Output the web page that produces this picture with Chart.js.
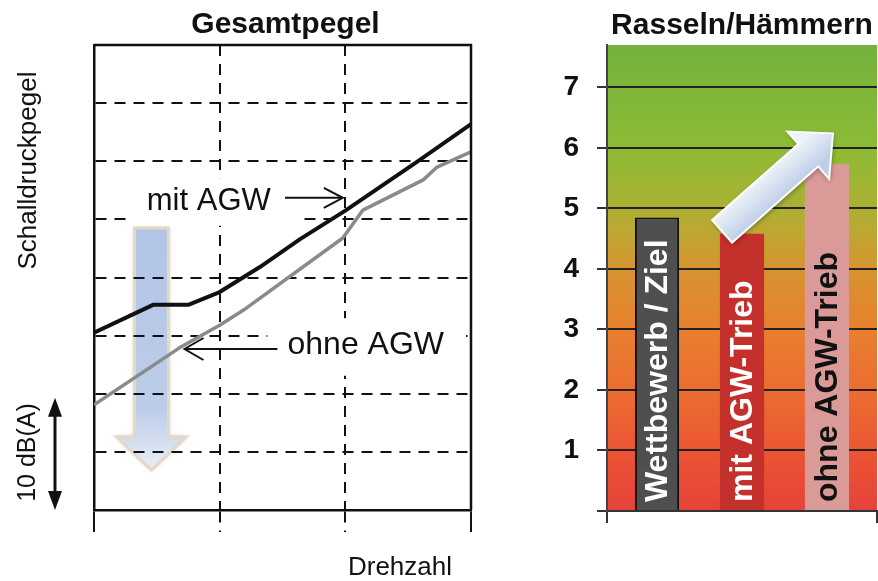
<!DOCTYPE html>
<html><head><meta charset="utf-8">
<script src="https://cdn.jsdelivr.net/npm/chart.js@4.4.0/dist/chart.umd.min.js"></script>
<style>
html,body{margin:0;padding:0;background:#fff;}
#wrap{position:relative;width:878px;height:581px;overflow:hidden;background:#fff;}
#c1{position:absolute;left:0;top:0;}
#c2{position:absolute;left:480px;top:0;}
</style></head><body>
<div id="wrap"><canvas id="c1" width="480" height="581"></canvas><canvas id="c2" width="398" height="581"></canvas></div>
<script>
// ---------- Left chart: Gesamtpegel (Schalldruckpegel über Drehzahl) ----------
const drehzahlMit  = [0, 0.47, 0.75, 1.0, 1.32, 1.64, 2.0, 2.57, 3.0];
const pegelMit     = [3.05, 3.53, 3.53, 3.75, 4.18, 4.66, 5.15, 5.99, 6.64];
const drehzahlOhne = [0, 0.68, 1.0, 1.19, 1.98, 2.14, 2.62, 2.73, 3.0];
const pegelOhne    = [1.81, 2.79, 3.18, 3.44, 4.68, 5.16, 5.68, 5.90, 6.16];
const lineLabels   = ['mit AGW', 'ohne AGW'];

// ---------- Right chart: Rasseln/Hämmern ----------
const barLabels   = ['Wettbewerb / Ziel', 'mit AGW-Trieb', 'ohne AGW-Trieb'];
const barValues   = [4.85, 4.58, 5.73];
const yTickLabels = ['1', '2', '3', '4', '5', '6', '7'];

// styles (kept apart from the data)
const barColors     = ['#4f4f4f', '#c4302c', '#d99a98'];
const barTextColors = ['#ffffff', '#ffffff', '#111111'];
const FONT = "'Liberation Sans', Arial, sans-serif";

function toPts(xs, ys) { return xs.map((v, i) => ({x: v, y: ys[i]})); }

const leftDecor = {
  id: 'leftDecor',
  beforeDraw(chart) {
    const {ctx, scales: {x, y}} = chart;
    // big light-blue down arrow
    const cx = x.getPixelForValue(0.457);
    const top = y.getPixelForValue(4.85);
    const headTop = y.getPixelForValue(1.26);
    const tip = y.getPixelForValue(0.69);
    const sw = 17, hw = 35;
    ctx.save();
    ctx.beginPath();
    ctx.moveTo(cx - sw, top); ctx.lineTo(cx + sw, top); ctx.lineTo(cx + sw, headTop);
    ctx.lineTo(cx + hw, headTop); ctx.lineTo(cx, tip); ctx.lineTo(cx - hw, headTop);
    ctx.lineTo(cx - sw, headTop); ctx.closePath();
    const g = ctx.createLinearGradient(0, top, 0, tip);
    g.addColorStop(0, '#b2c5e7'); g.addColorStop(0.75, '#bccde9'); g.addColorStop(1, '#e9eef7');
    ctx.fillStyle = g;
    ctx.shadowColor = 'rgba(140,115,70,0.5)'; ctx.shadowBlur = 4;
    ctx.fill();
    ctx.shadowBlur = 0;
    ctx.strokeStyle = '#e3d9c6'; ctx.lineWidth = 3; ctx.stroke();
    ctx.restore();
  },
  beforeDatasetsDraw(chart) {
    const {ctx, scales: {x, y}} = chart;
    ctx.save();
    ctx.fillStyle = '#ffffff';
    // white label backgrounds that hide the grid
    let x0 = x.getPixelForValue(0.26), x1 = x.getPixelForValue(1.62);
    let y0 = y.getPixelForValue(5.71), y1 = y.getPixelForValue(4.89);
    ctx.fillRect(x0, y0, x1 - x0, y1 - y0);
    x0 = x.getPixelForValue(1.38); x1 = x.getPixelForValue(2.96);
    y0 = y.getPixelForValue(3.30); y1 = y.getPixelForValue(2.31);
    ctx.fillRect(x0, y0, x1 - x0, y1 - y0);
    ctx.restore();
  },
  afterDatasetsDraw(chart) {
    const {ctx, scales: {x, y}} = chart;
    ctx.save();
    ctx.fillStyle = '#111'; ctx.strokeStyle = '#111';
    ctx.font = '31px ' + FONT; ctx.textBaseline = 'alphabetic'; ctx.textAlign = 'left';
    ctx.fillText(lineLabels[0], x.getPixelForValue(0.42), y.getPixelForValue(5.16));
    ctx.font = '32px ' + FONT;
    ctx.fillText(lineLabels[1], x.getPixelForValue(1.54), y.getPixelForValue(2.69));
    ctx.lineWidth = 2;
    // arrow "mit AGW" ->
    let ay = y.getPixelForValue(5.37);
    let ax0 = x.getPixelForValue(1.52), ax1 = x.getPixelForValue(1.98);
    ctx.beginPath(); ctx.moveTo(ax0, ay); ctx.lineTo(ax1, ay);
    ctx.moveTo(ax1 - 19, ay - 10); ctx.lineTo(ax1, ay); ctx.lineTo(ax1 - 19, ay + 10); ctx.stroke();
    // arrow "ohne AGW" <-
    ay = y.getPixelForValue(2.77);
    ax0 = x.getPixelForValue(1.46); ax1 = x.getPixelForValue(0.72);
    ctx.beginPath(); ctx.moveTo(ax0, ay); ctx.lineTo(ax1, ay);
    ctx.moveTo(ax1 + 19, ay - 11); ctx.lineTo(ax1, ay); ctx.lineTo(ax1 + 19, ay + 11); ctx.stroke();
    ctx.restore();
  },
  afterDraw(chart) {
    const {ctx, chartArea: ca, scales: {x, y}} = chart;
    ctx.save();
    // solid frame top and right
    ctx.strokeStyle = '#111'; ctx.lineWidth = 2.5;
    ctx.beginPath(); ctx.moveTo(ca.left, ca.top); ctx.lineTo(ca.right, ca.top); ctx.lineTo(ca.right, ca.bottom); ctx.stroke();
    // title
    ctx.fillStyle = '#111';
    ctx.font = 'bold 30px ' + FONT; ctx.textAlign = 'center'; ctx.textBaseline = 'alphabetic';
    ctx.fillText('Gesamtpegel', (ca.left + ca.right) / 2 + 3, 33);
    // x title
    ctx.font = '26px ' + FONT;
    ctx.fillText('Drehzahl', x.getPixelForValue(2.435), 575);
    // y title (rotated)
    ctx.save(); ctx.translate(36, y.getPixelForValue(5.84)); ctx.rotate(-Math.PI / 2);
    ctx.fillText('Schalldruckpegel', 0, 0); ctx.restore();
    ctx.font = '25px ' + FONT;
    ctx.save(); ctx.translate(35, y.getPixelForValue(0.99)); ctx.rotate(-Math.PI / 2);
    ctx.fillText('10 dB(A)', 0, 0); ctx.restore();
    // 10 dB double arrow
    const dx = 55, t = y.getPixelForValue(1.93), b = y.getPixelForValue(0);
    ctx.lineWidth = 3;
    ctx.beginPath(); ctx.moveTo(dx, t + 10); ctx.lineTo(dx, b - 10); ctx.stroke();
    ctx.beginPath(); ctx.moveTo(dx, t); ctx.lineTo(dx + 7, t + 19); ctx.lineTo(dx - 7, t + 19); ctx.closePath(); ctx.fill();
    ctx.beginPath(); ctx.moveTo(dx, b); ctx.lineTo(dx + 7, b - 19); ctx.lineTo(dx - 7, b - 19); ctx.closePath(); ctx.fill();
    ctx.restore();
  }
};

new Chart(document.getElementById('c1'), {
  type: 'line',
  data: {
    datasets: [
      {label: lineLabels[0], data: toPts(drehzahlMit, pegelMit), borderColor: '#111', borderWidth: 4,
       pointRadius: 0, tension: 0, borderJoinStyle: 'round', fill: false},
      {label: lineLabels[1], data: toPts(drehzahlOhne, pegelOhne), borderColor: '#8a8a8a', borderWidth: 3.5,
       pointRadius: 0, tension: 0, borderJoinStyle: 'round', fill: false}
    ]
  },
  options: {
    responsive: false, animation: false, events: [],
    layout: {padding: {top: 45, right: 9, left: 0, bottom: 0}},
    plugins: {legend: {display: false}, title: {display: false}, tooltip: {enabled: false}},
    scales: {
      x: {type: 'linear', min: 0, max: 3,
          ticks: {display: false, stepSize: 1},
          grid: {color: '#111', lineWidth: 2, drawTicks: true, tickLength: 22, tickWidth: 2, tickColor: '#111',
                 tickBorderDash: (c) => (c.index === 0 || c.index === 3) ? [] : [11, 8]},
          border: {display: true, color: '#111', width: 2.5, dash: [11, 8]},
          afterFit(s) { s.height = 71; }},
      y: {type: 'linear', min: 0, max: 8,
          ticks: {display: false, stepSize: 1},
          grid: {color: '#111', lineWidth: 2, drawTicks: false},
          border: {display: true, color: '#111', width: 2.5, dash: [11, 8]},
          afterFit(s) { s.width = 94; }}
    }
  },
  plugins: [leftDecor]
});

const upArrow = {from: [0.426, 4.62], to: [0.837, 6.24]}; // x as fraction of plot width, y in scale units

const rightDecor = {
  id: 'rightDecor',
  beforeDraw(chart) {
    const {ctx, chartArea: ca} = chart;
    const g = ctx.createLinearGradient(0, ca.top, 0, ca.bottom);
    g.addColorStop(0.0, '#72b23c');
    g.addColorStop(0.22, '#8dbb35');
    g.addColorStop(0.33, '#a6b232');
    g.addColorStop(0.40, '#bda832');
    g.addColorStop(0.48, '#d69430');
    g.addColorStop(0.61, '#e8802e');
    g.addColorStop(0.76, '#ec6a31');
    g.addColorStop(0.89, '#ea5234');
    g.addColorStop(1.0, '#e6423a');
    ctx.save(); ctx.fillStyle = g; ctx.fillRect(ca.left, ca.top, ca.right - ca.left, ca.bottom - ca.top); ctx.restore();
  },
  afterDatasetsDraw(chart) {
    const {ctx, chartArea: ca, scales: {y}} = chart;
    ctx.save();
    ctx.font = 'bold 32px ' + FONT; ctx.textAlign = 'left'; ctx.textBaseline = 'middle';
    barLabels.forEach((lab, i) => {
      const el = chart.getDatasetMeta(i).data[0];
      ctx.save(); ctx.translate(el.x, el.base - 8); ctx.rotate(-Math.PI / 2);
      ctx.fillStyle = barTextColors[i]; ctx.fillText(lab, 0, 1); ctx.restore();
    });
    // up arrow
    const w = ca.right - ca.left;
    const T = {x: ca.left + upArrow.from[0] * w, y: y.getPixelForValue(upArrow.from[1])};
    const P = {x: ca.left + upArrow.to[0] * w, y: y.getPixelForValue(upArrow.to[1])};
    const len = Math.hypot(P.x - T.x, P.y - T.y);
    const u = {x: (P.x - T.x) / len, y: (P.y - T.y) / len};
    const n = {x: -u.y, y: u.x};
    const sw = 15, hw = 31.5, hl = 33;
    const B = {x: P.x - u.x * hl, y: P.y - u.y * hl};
    ctx.beginPath();
    ctx.moveTo(T.x + n.x * sw, T.y + n.y * sw);
    ctx.lineTo(B.x + n.x * sw, B.y + n.y * sw);
    ctx.lineTo(B.x + n.x * hw, B.y + n.y * hw);
    ctx.lineTo(P.x, P.y);
    ctx.lineTo(B.x - n.x * hw, B.y - n.y * hw);
    ctx.lineTo(B.x - n.x * sw, B.y - n.y * sw);
    ctx.lineTo(T.x - n.x * sw, T.y - n.y * sw);
    ctx.closePath();
    const g = ctx.createLinearGradient(T.x - n.x * sw, T.y - n.y * sw, T.x + n.x * sw, T.y + n.y * sw);
    g.addColorStop(0, '#edf2f9'); g.addColorStop(1, '#bfcfe8');
    ctx.fillStyle = g;
    ctx.shadowColor = 'rgba(0,0,0,0.35)'; ctx.shadowBlur = 5; ctx.shadowOffsetX = 1; ctx.shadowOffsetY = 2;
    ctx.fill();
    ctx.shadowColor = 'transparent';
    ctx.strokeStyle = '#ffffff'; ctx.lineWidth = 2; ctx.stroke();
    ctx.restore();
  },
  afterDraw(chart) {
    const {ctx, chartArea: ca} = chart;
    ctx.save();
    ctx.fillStyle = '#111'; ctx.font = 'bold 30px ' + FONT; ctx.textAlign = 'center'; ctx.textBaseline = 'alphabetic';
    ctx.fillText('Rasseln/Hämmern', (ca.left + ca.right) / 2, 34);
    ctx.restore();
  }
};

new Chart(document.getElementById('c2'), {
  type: 'bar',
  data: {
    labels: [''],
    datasets: barLabels.map((lab, i) => ({
      label: lab, data: [barValues[i]],
      backgroundColor: barColors[i],
      borderColor: i === 0 ? '#111' : barColors[i],
      borderWidth: i === 0 ? 2 : 0,
      categoryPercentage: 0.944, barPercentage: 0.52
    }))
  },
  options: {
    responsive: false, animation: false, events: [],
    layout: {padding: {top: 45, right: 1, left: 0, bottom: 0}},
    plugins: {legend: {display: false}, title: {display: false}, tooltip: {enabled: false}},
    scales: {
      x: {offset: true, ticks: {display: false},
          grid: {offset: true, drawOnChartArea: false, drawTicks: true, tickLength: 12, tickWidth: 2, tickColor: '#333', color: '#333', lineWidth: 2},
          border: {display: true, color: '#333', width: 2},
          afterFit(s) { s.height = 70; }},
      y: {min: 0, max: 7.7,
          ticks: {stepSize: 1, includeBounds: false, color: '#111', padding: 18,
                  font: {family: FONT, weight: 'bold', size: 28},
                  callback: (v) => v === 0 ? '' : yTickLabels[v - 1]},
          grid: {color: '#222', lineWidth: 2, tickLength: 10, tickColor: '#333', tickWidth: 2},
          border: {display: true, color: '#444', width: 2},
          afterFit(s) { s.width = 127; }}
    }
  },
  plugins: [rightDecor]
});
</script>
</body></html>
